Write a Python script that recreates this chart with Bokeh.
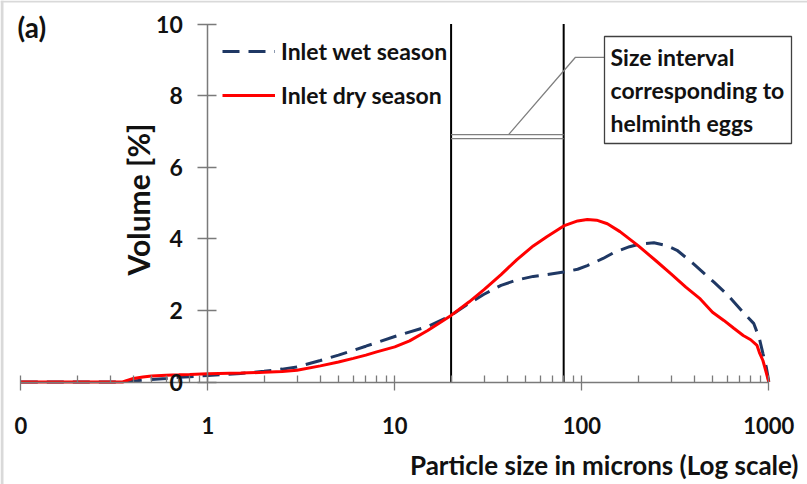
import math
from bokeh.plotting import figure
from bokeh.models import (Range1d, FixedTicker, CustomJSTickFormatter, Legend,
                          LegendItem, Label)
from bokeh.embed import file_html
from bokeh.resources import INLINE

# ---------------- data ----------------
x_tick_values = [0.1, 1, 10, 100, 1000]
x_tick_labels = ["0", "1", "10", "100", "1000"]
x_minor_ticks = [m * d for d in [0.1, 1, 10, 100] for m in range(2, 10)]
y_tick_values = [0, 2, 4, 6, 8, 10]

wet_size = [0.1, 0.2, 0.33, 0.4, 0.5, 0.6, 0.7, 0.8, 1, 1.5, 2, 2.5, 3, 4, 5, 7,
            10, 15, 20, 25, 30, 37, 45, 55, 65, 80, 95, 107, 130, 150, 180,
            207, 243, 280, 323, 396, 509, 605, 728, 832, 891, 930, 970, 1000]
wet_volume = [0, 0, 0, 0.03, 0.07, 0.10, 0.13, 0.15, 0.18, 0.24, 0.30, 0.36, 0.42,
              0.60, 0.75, 1.00, 1.27, 1.55, 1.86, 2.20, 2.45, 2.70, 2.85, 2.95,
              3.00, 3.07, 3.15, 3.25, 3.45, 3.63, 3.78, 3.86, 3.89, 3.82, 3.68,
              3.30, 2.79, 2.42, 1.95, 1.63, 1.21, 0.80, 0.41, 0]

dry_size = [0.1, 0.2, 0.3, 0.35, 0.4, 0.45, 0.5, 0.6, 0.7, 0.8, 1, 1.5, 2, 2.5, 3,
            4, 5, 6, 7, 8, 10, 12, 15, 20, 25, 30, 37, 45, 55, 65, 80, 95, 107,
            120, 137, 160, 200, 250, 300, 360, 430, 500, 575, 650, 730, 800, 865,
            890, 930, 965, 1000]
dry_volume = [0, 0, 0, 0, 0.10, 0.14, 0.17, 0.19, 0.20, 0.21, 0.23, 0.25, 0.27,
              0.29, 0.33, 0.45, 0.56, 0.66, 0.75, 0.84, 0.98, 1.15, 1.44, 1.86,
              2.24, 2.58, 3.00, 3.42, 3.80, 4.06, 4.36, 4.50, 4.54, 4.52, 4.42,
              4.20, 3.81, 3.38, 3.02, 2.65, 2.32, 1.95, 1.72, 1.50, 1.30, 1.18,
              1.02, 0.83, 0.60, 0.30, 0]

helminth_interval = [20, 80]
interval_line_y = [6.80, 6.91]
callout_x = [40.6, 92.5, 132]
callout_y = [6.91, 9.07, 9.07]
box_lines = ["Size interval", "corresponding to", "helminth eggs"]

# ---------------- layout ----------------
W, H = 807, 484
X0PX, DEC = 20.3, 187.0     # pixel of 0.1 and pixels per decade
Y0PX, UNIT = 381.5, 35.8    # pixel of y=0 and pixels per unit


def px2x(px):
    return 10 ** (-1 + (px - X0PX) / DEC)


def px2y(py):
    return (Y0PX - py) / UNIT


x_start, x_end = px2x(0), px2x(W)
y_start, y_end = px2y(H), px2y(0)

FONT = "Lato"
TXT = "#111111"
AX = "#7a7a7a"

p = figure(width=W, height=H, x_axis_type="log",
           x_range=Range1d(x_start, x_end), y_range=Range1d(y_start, y_end),
           output_backend="svg", toolbar_location=None,
           min_border_left=0, min_border_right=0, min_border_top=0,
           min_border_bottom=0)
p.outline_line_color = None
p.grid.visible = False
p.background_fill_color = "white"
p.border_fill_color = "white"

# light grey frame strips at the top and left edge of the picture
p.quad(left=[px2x(0), px2x(0)], right=[px2x(3), px2x(W)],
       top=[px2y(0), px2y(0)], bottom=[px2y(H), px2y(2)],
       fill_color="#d9d9d9", line_color=None)

xa = p.xaxis[0]
xa.fixed_location = 0
xa.bounds = (0.1, 1000)
xa.ticker = FixedTicker(ticks=x_tick_values, minor_ticks=x_minor_ticks)
xa.formatter = CustomJSTickFormatter(
    args=dict(vals=x_tick_values, labs=x_tick_labels),
    code="""
let best = 0, bd = Infinity;
for (let i = 0; i < vals.length; i++) {
  const d = Math.abs(Math.log10(tick) - Math.log10(vals[i]));
  if (d < bd) { bd = d; best = i; }
}
return labs[best];
""")
xa.axis_line_color = AX
xa.axis_line_width = 1.5
xa.major_tick_line_color = AX
xa.minor_tick_line_color = AX
xa.major_tick_line_width = 1.3
xa.minor_tick_line_width = 1.3
xa.major_tick_in = 7
xa.major_tick_out = 8
xa.minor_tick_in = 7
xa.minor_tick_out = 0
xa.major_label_text_font = FONT
xa.major_label_text_font_style = "bold"
xa.major_label_text_font_size = "22px"
xa.major_label_text_color = TXT
xa.major_label_standoff = 27

ya = p.yaxis[0]
ya.fixed_location = 1
ya.bounds = (0, 10)
ya.ticker = FixedTicker(ticks=y_tick_values, minor_ticks=[])
ya.axis_line_color = AX
ya.axis_line_width = 1.5
ya.major_tick_line_color = AX
ya.major_tick_line_width = 1.3
ya.major_tick_in = 9
ya.major_tick_out = 10
ya.minor_tick_line_color = None
ya.major_label_text_font = FONT
ya.major_label_text_font_style = "bold"
ya.major_label_text_font_size = "23px"
ya.major_label_text_color = TXT
ya.major_label_standoff = 15

# helminth size interval markers
p.segment(x0=helminth_interval, y0=[0, 0], x1=helminth_interval, y1=[10, 10],
          line_color="black", line_width=2)
p.multi_line(xs=[helminth_interval, helminth_interval],
             ys=[[interval_line_y[0]] * 2, [interval_line_y[1]] * 2],
             line_color="#7f7f7f", line_width=1.3)
p.line(callout_x, callout_y, line_color="#7f7f7f", line_width=1.3)

# callout box
p.quad(left=px2x(604), right=px2x(791), top=px2y(36), bottom=px2y(143),
       fill_color="white", line_color="#404040", line_width=1.3)

# curves
r_wet = p.line(wet_size, wet_volume, line_color="#1F3864", line_width=3,
               line_dash="17 9")
r_dry = p.line(dry_size, dry_volume, line_color="#FF0000", line_width=3)

legend = Legend(items=[LegendItem(label="Inlet wet season", renderers=[r_wet]),
                       LegendItem(label="Inlet dry season", renderers=[r_dry])],
                location=(222, H - 109), padding=0, margin=0,
                border_line_color=None, background_fill_alpha=0,
                glyph_width=53, glyph_height=24, label_height=24,
                label_standoff=6, spacing=16,
                label_text_font=FONT, label_text_font_style="bold",
                label_text_font_size="23px", label_text_color=TXT)
p.add_layout(legend)


def lab(**kw):
    base = dict(x_units="screen", y_units="screen", text_font=FONT,
                text_font_style="bold", text_color=TXT)
    base.update(kw)
    p.add_layout(Label(**base))


lab(x=17, y=H - 26, text="(a)", text_baseline="middle", text_font_size="28px")
lab(x=798, y=20, text="Particle size in microns (Log scale)", text_align="right",
    text_baseline="alphabetic", text_font_size="26px")
lab(x=137, y=H - 199, text="Volume [%]", angle=math.pi / 2, text_align="center",
    text_baseline="middle", text_font_size="30px")
for i, t in enumerate(box_lines):
    lab(x=610, y=H - (56 + 33 * i), text=t, text_align="left",
        text_baseline="alphabetic", text_font_size="23px")

open("out.html", "w").write(file_html(p, INLINE))
